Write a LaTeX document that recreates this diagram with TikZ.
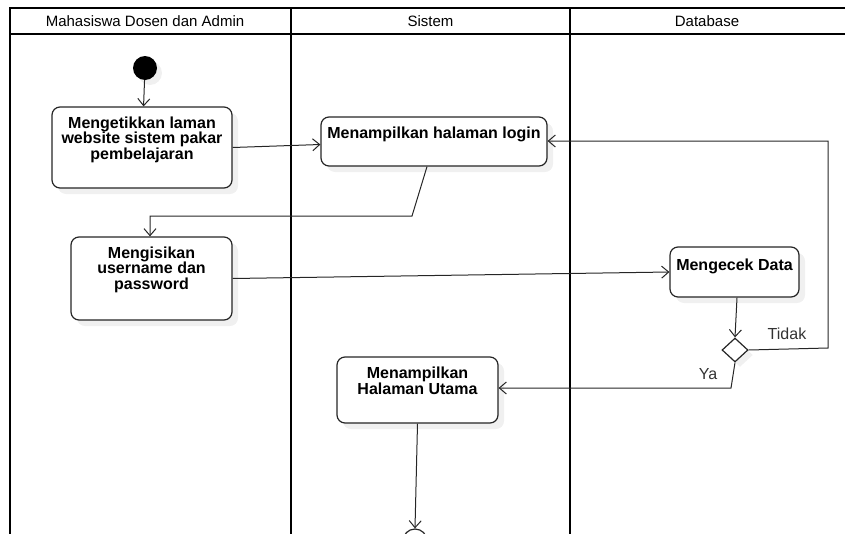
\documentclass[tikz,border=0pt]{standalone}
\usepackage{fontspec}
\setmainfont{Liberation Sans}
\usetikzlibrary{arrows.meta,shapes.geometric,shadows,calc}
\begin{document}
\begin{tikzpicture}[x=1pt,y=-1pt,
  lane/.style={line width=2.4pt},
  act/.style={draw=black!85,line width=1.2pt,rounded corners=8pt,fill=white,
    drop shadow={opacity=0.12,shadow xshift=6pt,shadow yshift=-6pt}},
  acttext/.style={anchor=north,font=\bfseries\fontsize{16}{15.8}\selectfont,align=center,inner sep=0pt},
  flow/.style={draw=black!85,line width=1pt,-{Straight Barb[length=7pt,width=12pt,line width=1pt]}},
  hdr/.style={font=\fontsize{15}{16}\selectfont},
  guard/.style={font=\fontsize{16}{18}\selectfont,text=black!80}]
\useasboundingbox (0,0) rectangle (845,533);

% swimlanes
\draw[lane] (845,8) -- (10,8) -- (10,540);
\draw[lane] (10,34) -- (845,34);
\draw[lane] (291,8) -- (291,540);
\draw[lane] (570,8) -- (570,540);
\node[hdr] (h1) at (145,21) {Mahasiswa Dosen dan Admin};
\node[hdr] (h2) at (430.5,21) {Sistem};
\node[hdr] (h3) at (707,21) {Database};

% start
\node[circle,fill=black,minimum size=24pt,inner sep=0pt,
  drop shadow={opacity=0.12,shadow xshift=5pt,shadow yshift=-5pt}] (start) at (145,68) {};

% activities
\node[act,minimum width=180pt,minimum height=81pt] (b1) at (142,147.5) {};
\node[acttext] at ($(b1.north)+(0,10)$) {Mengetikkan laman\\website sistem pakar\\pembelajaran};

\node[act,minimum width=226pt,minimum height=49pt] (b2) at (434,141.5) {};
\node[acttext] at ($(b2.north)+(0,10)$) {Menampilkan halaman login};

\node[act,minimum width=161pt,minimum height=83pt] (b3) at (151.5,278.5) {};
\node[acttext] at ($(b3.north)+(0,10)$) {Mengisikan\\username dan\\password};

\node[act,minimum width=129pt,minimum height=50pt] (b4) at (734.5,272) {};
\node[acttext] at ($(b4.north)+(0,12)$) {Mengecek Data};

\node[act,minimum width=161pt,minimum height=66pt] (b5) at (417.5,390) {};
\node[acttext] at ($(b5.north)+(0,10)$) {Menampilkan\\Halaman Utama};

% decision
\node[diamond,draw=black!85,line width=1.2pt,fill=white,minimum width=26pt,minimum height=24pt,inner sep=0pt,
  drop shadow={opacity=0.12,shadow xshift=5pt,shadow yshift=-5pt}] (dec) at (735,350) {};

% end
\node[circle,draw=black!85,line width=1.2pt,minimum size=24pt,inner sep=0pt] (end) at (415,541) {};

% flows
\draw[flow] (start) -- (b1);
\draw[flow] (b1.east) -- ($(b2.west)+(0,3)$);
\coordinate (c1) at (412,216);
\coordinate (c2) at (150,216);
\draw[flow] ($(b2.south)+(-7,0)$) -- (c1) -- (c2) -- (b3.north -| c2);
\draw[flow] (b3.east) -- (b4.west);
\draw[flow] ($(b4.south)+(2.5,0)$) -- (dec.north);
\coordinate (t1) at (828,348);
\coordinate (t2) at (828,141);
\draw[flow] (dec.east) -- (t1) -- (t2) -- (b2.east |- t2);
\coordinate (y1) at (731,388);
\draw[flow] (dec.south) -- (y1) -- (b5.east |- y1);
\draw[flow] (b5.south) -- (end.north);

% guards
\node[guard] (gt) at (787,334) {Tidak};
\node[guard] (gy) at (708,374) {Ya};
\end{tikzpicture}
\end{document}
